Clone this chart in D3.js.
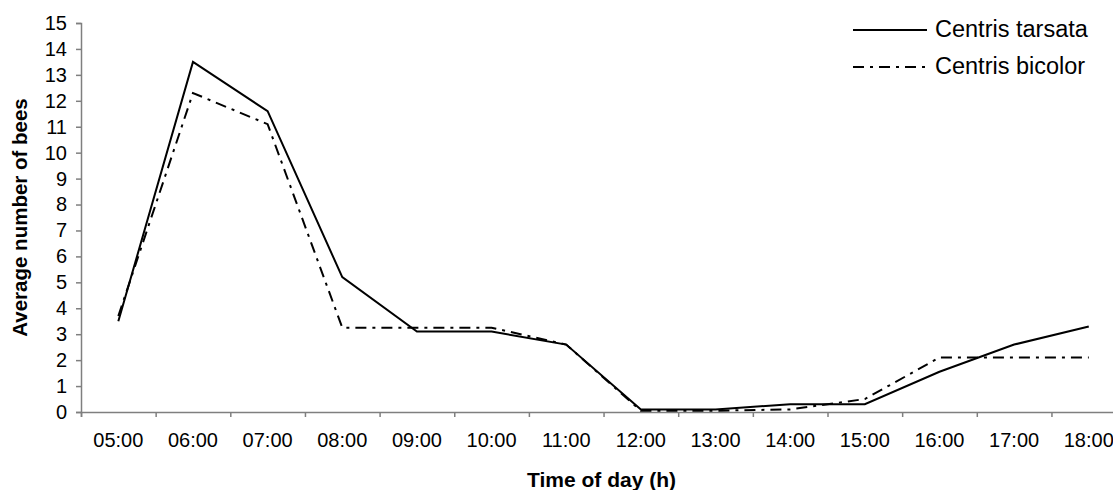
<!DOCTYPE html>
<html><head><meta charset="utf-8">
<script src="https://cdn.jsdelivr.net/npm/d3@7"></script>
<style>
body{margin:0;background:#fff;}
svg{display:block;font-family:"Liberation Sans",Arial,sans-serif;}
</style></head>
<body><svg id="c" width="1113" height="490"></svg>
<script>
const categories = ["05:00","06:00","07:00","08:00","09:00","10:00","11:00","12:00","13:00","14:00","15:00","16:00","17:00","18:00"];
const tarsata = [3.5,13.5,11.6,5.2,3.1,3.1,2.6,0.1,0.1,0.3,0.3,1.55,2.6,3.3];
const bicolor = [3.7,12.3,11.1,3.25,3.25,3.25,2.6,0.05,0.05,0.1,0.5,2.1,2.1,2.1];
const yTicks = d3.range(0,16);
const seriesNames = ["Centris tarsata","Centris bicolor"];

(function(){
const svg = d3.select("#c");
const mLeft = 81, mRight = 81 + 14*74.65, mTop = 23, mBottom = 412;
const x = d3.scaleBand().domain(categories).range([mLeft,mRight]).padding(0);
const xi = d3.scaleLinear().domain([0,categories.length]).range([mLeft,mRight]);
const y = d3.scaleLinear().domain([0,15]).range([mBottom,mTop]);
const axisColor = "#7f7f7f";

const ya = svg.append("g").attr("transform",`translate(${mLeft},0)`)
  .call(d3.axisLeft(y).tickValues(yTicks).tickSize(5).tickPadding(9).tickFormat(d3.format("d")));
ya.select(".domain").attr("stroke",axisColor).attr("stroke-width",1.5);
ya.selectAll(".tick line").attr("stroke",axisColor).attr("stroke-width",1.5);
ya.selectAll(".tick text").attr("font-size",20).attr("fill","#000").attr("font-family","Liberation Sans, Arial, sans-serif");

const xt = svg.append("g").attr("transform",`translate(0,${mBottom})`)
  .call(d3.axisBottom(xi).tickValues(d3.range(0,categories.length+1)).tickSize(5).tickFormat(""));
xt.select(".domain").attr("stroke",axisColor).attr("stroke-width",1.5);
xt.selectAll(".tick line").attr("stroke",axisColor).attr("stroke-width",1.5);
const xl = svg.append("g").attr("transform",`translate(0,${mBottom})`)
  .call(d3.axisBottom(x).tickSize(0).tickPadding(21));
xl.select(".domain").remove();
xl.selectAll(".tick text").attr("font-size",20).attr("fill","#000").attr("font-family","Liberation Sans, Arial, sans-serif");

const line = d3.line().x((d,i)=>x(categories[i])+x.bandwidth()/2).y(d=>y(d));
svg.append("path").datum(tarsata).attr("d",line).attr("fill","none").attr("stroke","#000").attr("stroke-width",2);
svg.append("path").datum(bicolor).attr("d",line).attr("fill","none").attr("stroke","#000").attr("stroke-width",2).attr("stroke-dasharray","11,6,3,6");

svg.append("text").attr("x",(mLeft+mRight)/2 - 2).attr("y",487).attr("text-anchor","middle")
  .attr("font-size",21).attr("font-weight","bold").text("Time of day (h)");
svg.append("text").attr("transform",`translate(27,${(mTop+mBottom)/2}) rotate(-90)`).attr("text-anchor","middle")
  .attr("font-size",20.5).attr("font-weight","bold").text("Average number of bees");

const leg = svg.append("g");
const legY = [30,67];
seriesNames.forEach((n,i)=>{
  leg.append("line").attr("x1",853).attr("x2",927).attr("y1",legY[i]).attr("y2",legY[i])
    .attr("stroke","#000").attr("stroke-width",2).attr("stroke-dasharray", i===1?"11,6,3,6":null);
  leg.append("text").attr("x",935).attr("y",legY[i]+7).attr("font-size",23.5).attr("fill","#000").text(n);
});
})();
</script></body></html>
